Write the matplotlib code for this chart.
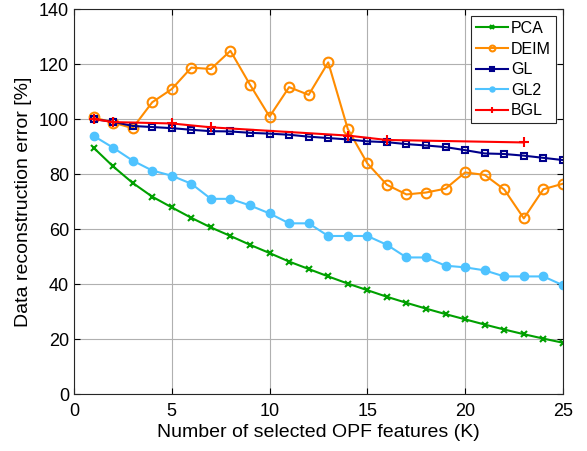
import matplotlib.pyplot as plt

plt.rcParams['font.family'] = ['Liberation Sans', 'DejaVu Sans']

# ---------------------------
# Data
# ---------------------------
k = list(range(1, 26))

pca = [89.6, 82.8, 76.8, 71.8, 67.9, 64.1, 60.6, 57.5, 54.3, 51.3,
       48.2, 45.5, 42.8, 40.2, 37.8, 35.4, 33.2, 31.1, 29.1, 27.2,
       25.3, 23.5, 21.8, 20.2, 18.7]
deim = [100.6, 98.7, 96.7, 106.1, 110.9, 118.7, 118.2, 124.8, 112.5, 100.9,
        111.6, 108.8, 120.6, 96.4, 83.9, 76.1, 72.6, 73.3, 74.7, 80.6,
        79.7, 74.4, 63.9, 74.5, 76.5]
gl = [100.0, 99.0, 97.5, 97.1, 96.7, 96.1, 95.6, 95.5, 95.0, 94.7,
      94.3, 93.6, 93.1, 92.6, 91.9, 91.6, 90.9, 90.4, 89.8, 88.7,
      87.5, 87.3, 86.7, 85.9, 85.1]
gl2 = [93.9, 89.6, 84.9, 81.3, 79.4, 76.5, 71.0, 71.0, 68.6, 65.7,
       62.1, 62.1, 57.5, 57.5, 57.5, 54.3, 49.7, 49.7, 46.7, 46.1,
       45.0, 42.8, 42.8, 42.8, 39.6]
bgl_k = [1, 2, 5, 7, 14, 16, 23]
bgl = [100.0, 98.9, 98.4, 97.0, 94.0, 92.4, 91.5]

# ---------------------------
# Plot
# ---------------------------
fig = plt.figure(figsize=(5.87, 4.51), dpi=100)
ax = fig.add_axes([0.126, 0.126, 0.833, 0.854])

ax.plot(k, pca, color='#00a000', marker='x', markersize=4, markeredgewidth=1.5,
        linewidth=1.5, label='PCA')
ax.plot(k, deim, color='#ff8c00', marker='o', markersize=7, markerfacecolor='none',
        markeredgewidth=1.5, linewidth=1.5, label='DEIM')
ax.plot(k, gl, color='#00008b', marker='s', markersize=5, markerfacecolor='none',
        markeredgewidth=1.5, linewidth=1.5, label='GL')
ax.plot(k, gl2, color='#4fc3ff', marker='o', markersize=6, linewidth=1.5, label='GL2')
ax.plot(bgl_k, bgl, color='#ff0000', marker='+', markersize=7, markeredgewidth=1.5,
        linewidth=1.5, label='BGL')

ax.set_xlim(0, 25)
ax.set_ylim(0, 140)
ax.set_xticks(range(0, 26, 5))
ax.set_yticks(range(0, 141, 20))
ax.tick_params(direction='in', labelsize=13, top=True, right=True, length=4)
ax.tick_params(axis='x', pad=6)
ax.grid(True, color='#b0b0b0', linewidth=0.8)
ax.set_axisbelow(True)
for s in ax.spines.values():
    s.set_color('#262626')

ax.set_xlabel('Number of selected OPF features (K)', fontsize=14, labelpad=3)
ax.set_ylabel('Data reconstruction error [%]', fontsize=14, labelpad=5)

leg = ax.legend(loc='upper right', fontsize=11.5, fancybox=False, framealpha=1,
                edgecolor='#262626', handlelength=2.0, borderpad=0.3,
                labelspacing=0.35, handletextpad=0.2, borderaxespad=0.45,
                markerscale=0.6)
leg.get_frame().set_linewidth(0.8)

fig.savefig('out.png', dpi=100)
